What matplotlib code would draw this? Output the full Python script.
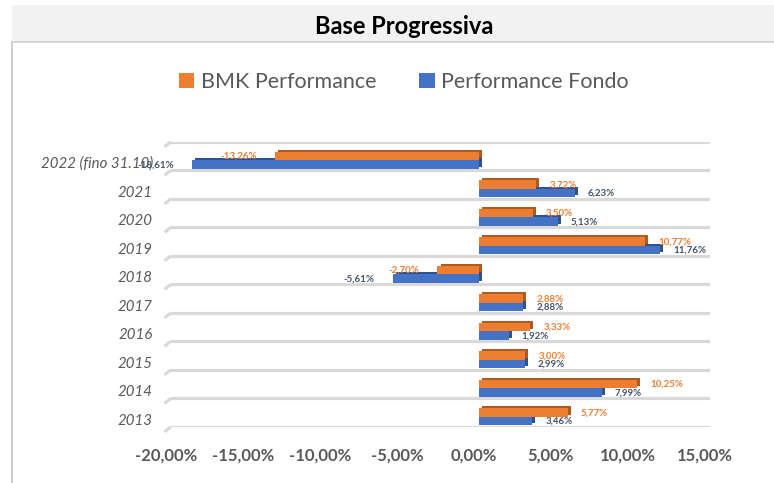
import matplotlib
matplotlib.use("Agg")
import matplotlib.pyplot as plt
from matplotlib.patches import Rectangle, Patch
from matplotlib.lines import Line2D
from matplotlib.transforms import ScaledTranslation
import numpy as np

# ---- data ----
years = ['2013', '2014', '2015', '2016', '2017', '2018', '2019', '2020', '2021', '2022 (fino 31.10)']
bmk = [5.77, 10.25, 3.00, 3.33, 2.88, -2.70, 10.77, 3.50, 3.72, -13.26]
fondo = [3.46, 7.99, 2.99, 1.92, 2.88, -5.61, 11.76, 5.13, 6.23, -18.61]
xticks = [-20, -15, -10, -5, 0, 5, 10, 15]
title = 'Base Progressiva'
series_names = ['BMK Performance', 'Performance Fondo']

FONT = ['Lato', 'DejaVu Sans']
plt.rcParams['font.family'] = FONT

W, H = 774, 483
fig = plt.figure(figsize=(W / 100, H / 100), dpi=100)
fig.patch.set_facecolor('white')

# title band and chart frame
fig.patches.append(Rectangle((12 / W, 1 - 42 / H), 762 / W, 37 / H, transform=fig.transFigure,
                             facecolor='#F2F2F2', edgecolor='none', zorder=0))
fig.lines.append(Line2D([12 / W, 1], [1 - 42 / H, 1 - 42 / H], transform=fig.transFigure,
                        color='#D0D0D0', lw=1.2))
fig.lines.append(Line2D([12 / W, 12 / W], [0, 1 - 42 / H], transform=fig.transFigure,
                        color='#D0D0D0', lw=1.5))
fig.text(404 / W, 1 - 27 / H, title, ha='center', va='center', fontsize=17,
         fontweight='bold', color='black')

ax = fig.add_axes([171 / W, 56.3 / H, 539 / W, 285 / H])
ax.set_xlim(-20, 15)
ax.set_ylim(-0.5, len(years) - 0.5)
ax.patch.set_alpha(0)
for s in ax.spines.values():
    s.set_visible(False)

# floor lines with 3D wall edge
for k in range(len(years) + 1):
    yl = k - 0.5
    ax.axhline(yl, color='#D9D9D9', lw=2.3, zorder=1)
    ax.plot([-20.42, -20], [yl - 0.18, yl], color='#D9D9D9', lw=2.3,
            clip_on=False, zorder=1, solid_capstyle='butt')

y = np.arange(len(years))
dx, dy = 0.2, 0.07
o_face, o_dark = '#ED7D31', '#AE5A21'
b_face, b_dark = '#4472C4', '#2F528F'

# blue (Performance Fondo)
ax.barh(y - 0.30 + dy, fondo, left=dx, height=0.30, color=b_dark, zorder=2)
ax.barh(y - 0.30, fondo, height=0.30, color=b_face, zorder=3)
# orange (BMK)
ax.barh(y + 0.0 + dy, bmk, left=dx, height=0.30, color=o_dark, zorder=4)
ax.barh(y + 0.0, bmk, height=0.30, color=o_face, zorder=5)


def fmt(v):
    return f"{v:.2f}".replace('.', ',') + '%'


for i in range(len(years)):
    for vals, yy, col in ((bmk, i - 0.02, '#ED7D31'), (fondo, i - 0.31, '#44546A')):
        v = vals[i]
        if v >= 0:
            ax.annotate(fmt(v), (v, yy), xytext=(13, 0), textcoords='offset pixels',
                        ha='left', va='center', fontsize=7, fontweight='bold',
                        color=col, zorder=6)
        else:
            ax.annotate(fmt(v), (v, yy), xytext=(-18, 0), textcoords='offset pixels',
                        ha='right', va='center', fontsize=7, fontweight='bold',
                        color=col, zorder=6)

ax.set_xticks(xticks)
ax.set_xticklabels([f"{t:.2f}".replace('.', ',') + '%' for t in xticks],
                   fontsize=12, fontweight='bold', color='#595959')
ax.tick_params(axis='x', length=0, pad=15)
off = ScaledTranslation(-5 / 100, 0, fig.dpi_scale_trans)
for lab in ax.get_xticklabels():
    lab.set_transform(lab.get_transform() + off)

ax.set_yticks(y - 0.23)
ax.set_yticklabels(years, fontsize=10.8, fontstyle='italic', color='#595959')
ax.tick_params(axis='y', length=0, pad=13)

handles = [Patch(facecolor=o_face), Patch(facecolor=b_face)]
fig.legend(handles, series_names, loc='center', bbox_to_anchor=(404 / W, 1 - 82 / H),
           ncol=2, frameon=False, fontsize=15.5, labelcolor='#595959',
           handlelength=0.7, handleheight=0.7, handletextpad=0.3, columnspacing=2.0)

fig.savefig('out.png', dpi=100, facecolor='white')
